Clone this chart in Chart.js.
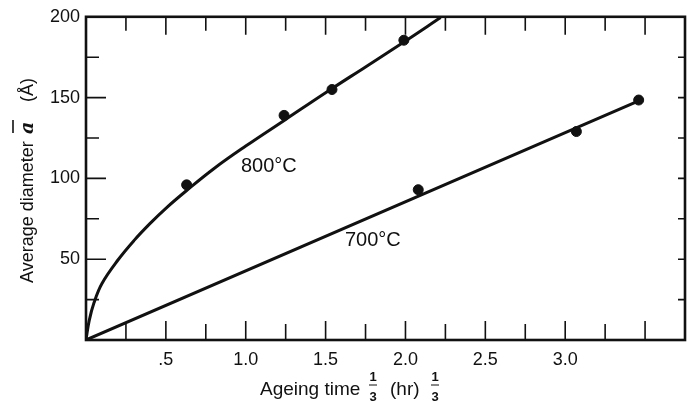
<!DOCTYPE html>
<html>
<head>
<meta charset="utf-8">
<script src="https://cdn.jsdelivr.net/npm/chart.js@4/dist/chart.umd.min.js"></script>
<style>
  html, body { margin: 0; padding: 0; background: #fff; overflow: hidden; }
  #wrap { width: 694px; height: 403px; }
</style>
</head>
<body>
<div id="wrap"><canvas id="ageing-chart"></canvas></div>
<script>
// values (x = ageing time^(1/3), y = average diameter in A)
var curve800X = [0, 0.02, 0.05, 0.1, 0.2, 0.3, 0.4, 0.5, 0.63, 0.8, 1.0, 1.25, 1.5, 1.75, 2.0, 2.22];
var curve800Y = [0, 12, 23, 35, 49.5, 61.5, 72, 81.5, 92.5, 106, 120, 136.5, 153, 169, 185, 199.5];
var points800X = [0.63, 1.24, 1.54, 1.99];
var points800Y = [96, 139, 155, 185.5];

var line700X = [0, 3.46];
var line700Y = [0, 148];
var points700X = [2.08, 3.07, 3.46];
var points700Y = [93, 129, 148.5];

var xTickLabels = {0.5: ".5", 1: "1.0", 1.5: "1.5", 2: "2.0", 2.5: "2.5", 3: "3.0", 3.5: "3.5"};
var yTickLabels = {50: "50", 100: "100", 150: "150", 200: "200"};

var seriesLabels = ["800\u00b0C", "700\u00b0C"];
var labelPos = [[1.145, 107.6], [1.796, 61.8]];

var ink = "#111";
var font = "'Liberation Sans', Arial, sans-serif";

function pairs(xs, ys) {
  var out = [];
  for (var i = 0; i < xs.length; i++) out.push({x: xs[i], y: ys[i]});
  return out;
}

// frame, inward ticks, titles and curve labels
var decorations = {
  id: "decorations",
  afterDraw: function(chart) {
    var ctx = chart.ctx;
    var a = chart.chartArea;
    var xs = chart.scales.x;
    var ys = chart.scales.y;
    ctx.save();
    ctx.strokeStyle = ink;
    ctx.fillStyle = ink;

    ctx.lineWidth = 1.6;
    ctx.beginPath();
    for (var i = 1; i < 15; i++) {
      var px = xs.getPixelForValue(i * 0.25);
      var major = i % 2 === 0;
      ctx.moveTo(px, a.bottom);
      ctx.lineTo(px, a.bottom - (major ? 19 : 16));
      ctx.moveTo(px, a.top);
      ctx.lineTo(px, a.top + (major ? 18 : 14));
    }
    for (var j = 1; j < 8; j++) {
      var py = ys.getPixelForValue(j * 25);
      var maj = j % 2 === 0;
      ctx.moveTo(a.left, py);
      ctx.lineTo(a.left + (maj ? 20 : 13), py);
      ctx.moveTo(a.right, py);
      ctx.lineTo(a.right - 7, py);
    }
    ctx.stroke();

    ctx.lineWidth = 2.6;
    ctx.strokeRect(a.left, a.top, a.right - a.left, a.bottom - a.top);

    // curve labels
    ctx.font = "20px " + font;
    ctx.textAlign = "center";
    ctx.textBaseline = "middle";
    for (var k = 0; k < seriesLabels.length; k++) {
      ctx.fillText(seriesLabels[k], xs.getPixelForValue(labelPos[k][0]), ys.getPixelForValue(labelPos[k][1]));
    }

    // x axis title with stacked 1/3
    function frac(cx, base) {
      ctx.font = "bold 13px " + font;
      ctx.textAlign = "center";
      ctx.textBaseline = "alphabetic";
      ctx.fillText("1", cx, base - 14);
      ctx.fillText("3", cx, base + 6);
      ctx.lineWidth = 1;
      ctx.beginPath();
      ctx.moveTo(cx - 4, base - 10);
      ctx.lineTo(cx + 4, base - 10);
      ctx.stroke();
    }
    var base = a.bottom + 55;
    ctx.font = "19px " + font;
    ctx.textAlign = "left";
    ctx.textBaseline = "alphabetic";
    var x0 = a.left + 174;
    ctx.fillText("Ageing time", x0, base);
    frac(373, base);
    ctx.font = "19px " + font;
    ctx.textAlign = "left";
    ctx.fillText("(hr)", 390, base);
    frac(435, base);

    // y axis title, rotated
    ctx.translate(33, 283);
    ctx.rotate(-Math.PI / 2);
    ctx.textAlign = "left";
    ctx.font = "18px " + font;
    ctx.fillText("Average diameter", 0, 0);
    ctx.font = "italic bold 19px 'DejaVu Serif', serif";
    ctx.fillText("a", 149, 0);
    ctx.lineWidth = 1.6;
    ctx.beginPath();
    ctx.moveTo(150, -20);
    ctx.lineTo(163, -20);
    ctx.stroke();
    ctx.font = "18px " + font;
    ctx.fillText("(\u00c5)", 181, 0);
    ctx.restore();
  }
};

var data = {
  datasets: [
    {
      label: "800C curve",
      data: pairs(curve800X, curve800Y),
      showLine: true,
      borderColor: ink,
      borderWidth: 3,
      pointRadius: 0,
      tension: 0.4
    },
    {
      label: "800C points",
      data: pairs(points800X, points800Y),
      showLine: false,
      backgroundColor: ink,
      borderColor: ink,
      pointRadius: 5
    },
    {
      label: "700C line",
      data: pairs(line700X, line700Y),
      showLine: true,
      borderColor: ink,
      borderWidth: 3,
      pointRadius: 0
    },
    {
      label: "700C points",
      data: pairs(points700X, points700Y),
      showLine: false,
      backgroundColor: ink,
      borderColor: ink,
      pointRadius: 5
    }
  ]
};

var options = {
  responsive: true,
  maintainAspectRatio: false,
  animation: false,
  layout: { padding: { top: 16, right: 2.4, left: 0, bottom: 0 } },
  plugins: {
    legend: { display: false },
    tooltip: { enabled: false }
  },
  scales: {
    x: {
      type: "linear",
      min: 0,
      max: 3.75,
      afterFit: function(s) { s.height = 63; },
      grid: { display: false, drawTicks: false },
      border: { display: false },
      ticks: {
        stepSize: 0.5,
        padding: 9,
        color: ink,
        font: { family: font, size: 18 },
        maxRotation: 0,
        autoSkip: false,
        callback: function(v) { return xTickLabels[v] || ""; }
      }
    },
    y: {
      type: "linear",
      min: 0,
      max: 200,
      afterFit: function(s) { s.width = 86; },
      grid: { display: false, drawTicks: false },
      border: { display: false },
      ticks: {
        stepSize: 50,
        padding: 6,
        color: ink,
        font: { family: font, size: 18 },
        callback: function(v) { return yTickLabels[v] || ""; }
      }
    }
  }
};

var chart = new Chart(document.getElementById("ageing-chart"), {
  type: "scatter",
  data: data,
  options: options,
  plugins: [decorations]
});
</script>
</body>
</html>
